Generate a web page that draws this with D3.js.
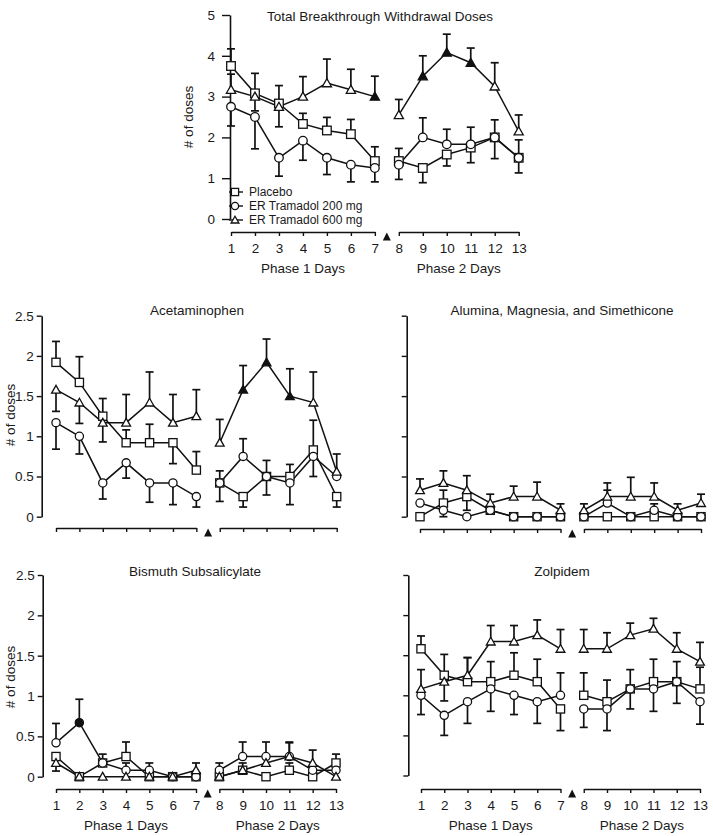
<!DOCTYPE html>
<html><head><meta charset="utf-8">
<script src="https://cdn.jsdelivr.net/npm/d3@7"></script>
<style>
body{margin:0;background:#fff}
text{font-family:"Liberation Sans",Arial,Helvetica,sans-serif;fill:#1a1a1a}
</style>
</head><body>
<svg id="chart" width="713" height="836"></svg>
<script>
// ---------- DATA ----------
const days = [1,2,3,4,5,6,7,8,9,10,11,12,13];
const phase1Days = [1,2,3,4,5,6,7];
const phase2Days = [8,9,10,11,12,13];
const seriesNames = ["Placebo","ER Tramadol 200 mg","ER Tramadol 600 mg"];
const phaseLabels = ["Phase 1 Days","Phase 2 Days"];
const yTicksTotal = [0,1,2,3,4,5];
const yTicksDrug = [0,0.5,1,1.5,2,2.5];
const yLabel = "# of doses";

// Total Breakthrough Withdrawal Doses (error: signed offset, + up / - down)
const totalPlacebo    = [3.75,3.08,2.83,2.33,2.17,2.08,1.42,1.42,1.25,1.58,1.75,2.0,1.5];
const totalPlaceboErr = [0.42,0.49,0.44,0.26,0.32,0.36,0.35,0.31,-0.36,-0.28,-0.37,0.43,0.44];
const total200        = [2.75,2.5,1.5,1.92,1.5,1.33,1.25,1.33,2.0,1.83,1.83,2.0,1.5];
const total200Err     = [-0.47,-0.78,-0.45,-0.48,-0.41,-0.42,-0.34,-0.36,0.48,0.37,0.42,-0.52,-0.37];
const total600        = [3.17,3.0,2.75,3.0,3.33,3.17,3.0,2.55,3.5,4.08,3.83,3.25,2.15];
const total600Err     = [0.38,-0.35,-0.49,0.49,0.59,0.5,0.5,0.38,0.5,0.45,0.36,0.58,0.4];
const total600Filled  = [7,9,10,11];

// Acetaminophen
const acetPlacebo    = [1.92,1.67,1.25,0.92,0.92,0.92,0.58,0.42,0.25,0.5,0.5,0.83,0.25];
const acetPlaceboErr = [0.26,0.32,0.22,0.16,0.23,-0.26,0.23,0.15,-0.13,0.2,0.15,0.37,-0.13];
const acet200        = [1.17,1.0,0.42,0.67,0.42,0.42,0.25,0.42,0.75,0.5,0.42,0.75,0.5];
const acet200Err     = [-0.33,-0.22,-0.2,-0.19,-0.24,-0.27,-0.13,-0.23,0.22,-0.23,-0.27,-0.25,0];
const acet600        = [1.58,1.42,1.17,1.17,1.42,1.17,1.25,0.92,1.58,1.92,1.5,1.42,0.56];
const acet600Err     = [-0.27,-0.26,-0.24,0.35,0.38,0.35,0.33,0.29,0.3,0.29,0.34,0.38,0.22];
const acet600Filled  = [9,10,11];

// Alumina, Magnesia, and Simethicone
const alumPlacebo    = [0,0.17,0.25,0.08,0,0,0,0,0,0,0,0,0];
const alumPlaceboErr = [0,0.16,-0.17,0,0,0,0,0,0,0,0,0,0];
const alum200        = [0.17,0.08,0,0.08,0,0,0,0,0.17,0,0.08,0,0];
const alum200Err     = [0,-0.08,0,0,0,0,0,0,0.16,0,0.08,0,0];
const alum600        = [0.33,0.42,0.33,0.17,0.25,0.25,0.08,0.08,0.25,0.25,0.25,0.08,0.17];
const alum600Err     = [0.14,0.15,0.18,0.11,0.13,0.18,0.08,0.08,0.17,0.24,0.17,0.08,0.11];

// Bismuth Subsalicylate
const bismPlacebo    = [0.25,0,0.17,0.25,0,0,0,0,0.08,0,0.08,0,0.17];
const bismPlaceboErr = [0,0,0,0.18,0,0,0,0,0.09,0,0.09,0,0.11];
const bism200        = [0.42,0.67,0.17,0.08,0.08,0,0,0.08,0.25,0.25,0.25,0.08,0.08];
const bism200Err     = [0.24,0.29,0.11,0.09,0.09,0,0,0.09,0.18,0.18,0.18,0,0];
const bism600        = [0.17,0,0,0,0,0,0.08,0,0.08,0.17,0.25,0.17,0];
const bism600Err     = [-0.1,0,0,0,0,0,0.09,0,0,0,0.17,0.16,0];
const bism200Filled  = [2];

// Zolpidem
const zolpPlacebo    = [1.58,1.25,1.17,1.17,1.25,1.17,0.83,1.0,0.92,1.08,1.17,1.17,1.08];
const zolpPlaceboErr = [0.16,0.26,0.3,0.25,0.28,0.28,-0.27,0.28,0.27,0.24,0.28,0.25,0.27];
const zolp200        = [1.0,0.75,0.92,1.08,1.0,0.92,1.0,0.83,0.83,1.08,1.08,1.17,0.92];
const zolp200Err     = [-0.24,-0.25,-0.27,-0.28,-0.24,-0.27,0.28,-0.23,-0.27,-0.25,-0.28,-0.27,-0.28];
const zolp600        = [1.08,1.17,1.25,1.67,1.67,1.75,1.58,1.58,1.58,1.75,1.83,1.58,1.42];
const zolp600Err     = [0.24,-0.24,0.22,0.2,0.2,0.19,0.24,0.24,0.2,0.15,0.13,0.2,0.24];

// ---------- DRAWING ----------
const svg = d3.select("#chart");
const FONT = 13.5;

const panels = [
  {title:"Total Breakthrough Withdrawal Doses", titleX:380, titleY:16,
   xr:[231,518.7], yr:[219,15], ymax:5, ticks:yTicksTotal, axisX:230, tk:8, tp:7,
   tickLabels:true, ylab:{x:188,y:117}, brY:232, dayLabels:true,
   series:[[totalPlacebo,totalPlaceboErr,"square",[]],[total200,total200Err,"circle",[]],[total600,total600Err,"triangle",total600Filled]],
   legend:true},
  {title:"Acetaminophen", titleX:197, titleY:310,
   xr:[56,336.7], yr:[516.7,315.7], ymax:2.5, ticks:yTicksDrug, axisX:41.7, tk:5, tp:3,
   tickLabels:true, ylab:{x:10,y:415}, brY:528, dayLabels:false,
   series:[[acetPlacebo,acetPlaceboErr,"square",[]],[acet200,acet200Err,"circle",[]],[acet600,acet600Err,"triangle",acet600Filled]]},
  {title:"Alumina, Magnesia, and Simethicone", titleX:562, titleY:310,
   xr:[420,701], yr:[516.7,315.7], ymax:2.5, ticks:yTicksDrug, axisX:406.7, tk:5, tp:3,
   tickLabels:false, ylab:null, brY:529, dayLabels:false,
   series:[[alumPlacebo,alumPlaceboErr,"square",[]],[alum200,alum200Err,"circle",[]],[alum600,alum600Err,"triangle",[]]]},
  {title:"Bismuth Subsalicylate", titleX:195, titleY:571,
   xr:[56,336], yr:[776.7,575], ymax:2.5, ticks:yTicksDrug, axisX:42.7, tk:5, tp:3,
   tickLabels:true, ylab:{x:10,y:677}, brY:789, dayLabels:true,
   series:[[bismPlacebo,bismPlaceboErr,"square",[]],[bism200,bism200Err,"circle",bism200Filled],[bism600,bism600Err,"triangle",[]]]},
  {title:"Zolpidem", titleX:562, titleY:571,
   xr:[421,700], yr:[775.5,575], ymax:2.5, ticks:yTicksDrug, axisX:408.3, tk:5, tp:3,
   tickLabels:false, ylab:null, brY:789, dayLabels:true,
   series:[[zolpPlacebo,zolpPlaceboErr,"square",[]],[zolp200,zolp200Err,"circle",[]],[zolp600,zolp600Err,"triangle",[]]]}
];

function marker(g, shape, cx, cy, filled, s){
  const fill = filled ? "#111" : "#fff";
  let m;
  if(shape==="square"){
    m = g.append("rect").attr("x",cx-s).attr("y",cy-s).attr("width",2*s).attr("height",2*s);
  } else if(shape==="circle"){
    m = g.append("circle").attr("cx",cx).attr("cy",cy).attr("r",s);
  } else {
    const h = s*1.05;
    m = g.append("path").attr("d",`M${cx},${cy-h}L${cx+s+0.3},${cy+h*0.8}L${cx-s-0.3},${cy+h*0.8}Z`);
  }
  m.attr("stroke","#111").attr("stroke-width",1.3).attr("fill",fill);
}

panels.forEach(p=>{
  const g = svg.append("g");
  const x = d3.scaleLinear().domain([1,13]).range(p.xr);
  const y = d3.scaleLinear().domain([0,p.ymax]).range(p.yr);

  g.append("text").attr("x",p.titleX).attr("y",p.titleY).attr("dy","0.35em")
    .attr("text-anchor","middle").attr("font-size",FONT).text(p.title);

  const ya = d3.axisLeft(y).tickValues(p.ticks).tickSize(p.tk).tickSizeOuter(0).tickPadding(p.tp)
    .tickFormat(p.tickLabels ? d3.format("") : "");
  const yg = g.append("g").attr("transform",`translate(${p.axisX},0)`).call(ya);
  yg.select(".domain").attr("stroke","#111").attr("stroke-width",1.6);
  yg.selectAll(".tick line").attr("stroke","#111").attr("stroke-width",1.4);
  yg.selectAll(".tick text").attr("font-size",FONT).attr("font-family","'Liberation Sans',Arial,sans-serif").attr("fill","#1a1a1a");

  if(p.ylab){
    g.append("text").attr("transform",`translate(${p.ylab.x},${p.ylab.y}) rotate(-90)`)
      .attr("text-anchor","middle").attr("dy","0.35em").attr("font-size",FONT).text(yLabel);
  }

  [phase1Days, phase2Days].forEach((pd,i)=>{
    const sx = d3.scaleLinear().domain([pd[0],pd[pd.length-1]]).range([x(pd[0]),x(pd[pd.length-1])]);
    const xa = d3.axisBottom(sx).tickValues(pd).tickSize(4).tickSizeOuter(0).tickPadding(7)
      .tickFormat(p.dayLabels ? d3.format("") : "");
    const xg = g.append("g").attr("transform",`translate(0,${p.brY})`).call(xa);
    xg.select(".domain").attr("stroke","#111").attr("stroke-width",1.6);
    xg.selectAll(".tick line").attr("stroke","#111").attr("stroke-width",1.4);
    xg.selectAll(".tick text").attr("font-size",FONT).attr("font-family","'Liberation Sans',Arial,sans-serif").attr("fill","#1a1a1a");
    if(p.dayLabels){
      g.append("text").attr("x",(x(pd[0])+x(pd[pd.length-1]))/2).attr("y",p.brY+36).attr("dy","0.35em")
        .attr("text-anchor","middle").attr("font-size",FONT).text(phaseLabels[i]);
    }
  });
  const mx = x(7.5), my = p.brY + 5;
  g.append("path").attr("d",`M${mx},${my-4.5}L${mx+4},${my+3.5}L${mx-4},${my+3.5}Z`).attr("fill","#111");

  const segs = [phase1Days, phase2Days];
  const line = d3.line().x(d=>x(d.day)).y(d=>y(d.v));

  p.series.forEach(([vals])=>{
    segs.forEach(pd=>{
      const pts = pd.map(d=>({day:d, v:vals[days.indexOf(d)]}));
      g.append("path").attr("d",line(pts)).attr("fill","none").attr("stroke","#111").attr("stroke-width",1.5);
    });
  });
  p.series.forEach(([vals,errs])=>{
    days.forEach((d,i)=>{
      if(!errs[i]) return;
      const x0 = x(d), y0 = y(vals[i]), y1 = y(vals[i]+errs[i]);
      g.append("line").attr("x1",x0).attr("x2",x0).attr("y1",y0).attr("y2",y1).attr("stroke","#111").attr("stroke-width",1.7);
      g.append("line").attr("x1",x0-4).attr("x2",x0+4).attr("y1",y1).attr("y2",y1).attr("stroke","#111").attr("stroke-width",1.7);
    });
  });
  const ms = p.ymax===5 ? 4.3 : 4.1;
  p.series.forEach(([vals,errs,shape,filled])=>{
    days.forEach((d,i)=>{
      marker(g, shape, x(d), y(vals[i]), filled.includes(d), ms);
    });
  });

  if(p.legend){
    const lx = 235, lys = [192,206,220];
    ["square","circle","triangle"].forEach((sh,i)=>{
      g.append("line").attr("x1",lx-6).attr("x2",lx+8).attr("y1",lys[i]).attr("y2",lys[i]).attr("stroke","#111").attr("stroke-width",1.4);
      marker(g, sh, lx, lys[i], false, 3.6);
      g.append("text").attr("x",lx+14).attr("y",lys[i]).attr("dy","0.35em").attr("font-size",12).text(seriesNames[i]);
    });
  }
});
</script>
</body></html>
